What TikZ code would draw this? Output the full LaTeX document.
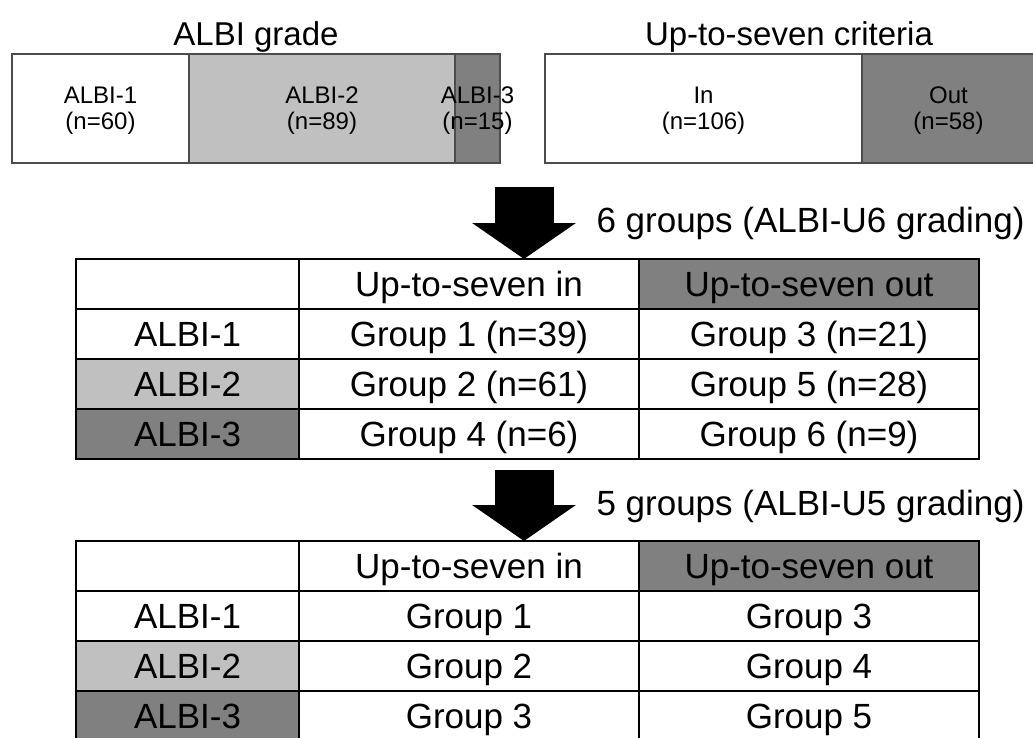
\documentclass[tikz,border=0pt]{standalone}
\usepackage{fontspec}
\setmainfont{Liberation Sans}
\usetikzlibrary{positioning, arrows.meta}
\definecolor{albiTwo}{HTML}{C0C0C0}
\definecolor{albiThree}{HTML}{808080}

\begin{document}
\begin{tikzpicture}[x=1pt, y=-1pt, node distance=0pt and 0pt]
    \tikzset{
      bar/.style={
        rectangle, draw=black!70, line width=1.5pt,
        outer sep=0pt, inner sep=0pt, minimum height=109pt,
        align=center, text depth=0pt, font=\fontsize{24}{26}\selectfont
      },
      barlabel/.style={align=center, text depth=0pt, font=\fontsize{24}{26}\selectfont},
      heading/.style={anchor=base, font=\fontsize{33}{38}\selectfont},
      cell/.style={
        rectangle, draw=black, line width=1.6pt,
        outer sep=0pt, inner sep=0pt, minimum height=50pt,
        text height=25pt, text depth=0pt, font=\fontsize{35}{40}\selectfont
      },
      rowcell/.style={cell, minimum width=223pt},
      datacell/.style={cell, minimum width=340pt},
      gradelabel/.style={anchor=base west, font=\fontsize{35}{40}\selectfont},
      bigarrow/.style={line width=59pt, -{Triangle[width=102pt, length=36pt]}}
    }
    \useasboundingbox (0,0) rectangle (1033,738);

    % ALBI grade bar
    \node[heading] (albititle) at (256,46) {ALBI grade};
    \node[bar, anchor=north west, minimum width=177pt] (a1) at (12,54) {ALBI-1\\(n=60)};
    \node[bar, fill=albiTwo, minimum width=266pt, right=of a1] (a2) {ALBI-2\\(n=89)};
    \node[bar, fill=albiThree, minimum width=45pt, right=of a2] (a3) {};
    \node[barlabel] (a3text) at (a3) {ALBI-3\\(n=15)};

    % Up-to-seven bar
    \node[heading] (uptitle) at (789,46) {Up-to-seven criteria};
    \node[bar, anchor=north west, minimum width=317pt] (b1) at (545,54) {In\\(n=106)};
    \node[bar, fill=albiThree, minimum width=173pt, right=of b1] (b2) {Out\\(n=58)};

    % Table 1: ALBI-U6
    \node[rowcell, anchor=north west] (t1h0) at (76,259) {};
    \node[datacell, right=of t1h0] (t1h1) {Up-to-seven in};
    \node[datacell, fill=albiThree, right=of t1h1] (t1h2) {Up-to-seven out};
    \node[rowcell, below=of t1h0] (t1r1) {ALBI-1};
    \node[datacell, right=of t1r1] (t1g1) {Group 1 (n=39)};
    \node[datacell, right=of t1g1] (t1g3) {Group 3 (n=21)};
    \node[rowcell, fill=albiTwo, below=of t1r1] (t1r2) {ALBI-2};
    \node[datacell, right=of t1r2] (t1g2) {Group 2 (n=61)};
    \node[datacell, right=of t1g2] (t1g5) {Group 5 (n=28)};
    \node[rowcell, fill=albiThree, below=of t1r2] (t1r3) {ALBI-3};
    \node[datacell, right=of t1r3] (t1g4) {Group 4 (n=6)};
    \node[datacell, right=of t1g4] (t1g6) {Group 6 (n=9)};

    \coordinate (arr1) at (524,187);
    \draw[bigarrow] (arr1) -- (arr1 |- t1h1.north);
    \node[gradelabel] (u6) at (593,233) {6 groups (ALBI-U6 grading)};

    % Table 2: ALBI-U5
    \node[rowcell, anchor=north west] (t2h0) at (76,541) {};
    \node[datacell, right=of t2h0] (t2h1) {Up-to-seven in};
    \node[datacell, fill=albiThree, right=of t2h1] (t2h2) {Up-to-seven out};
    \node[rowcell, below=of t2h0] (t2r1) {ALBI-1};
    \node[datacell, right=of t2r1] (t2g1) {Group 1};
    \node[datacell, right=of t2g1] (t2g3) {Group 3};
    \node[rowcell, fill=albiTwo, below=of t2r1] (t2r2) {ALBI-2};
    \node[datacell, right=of t2r2] (t2g2) {Group 2};
    \node[datacell, right=of t2g2] (t2g4) {Group 4};
    \node[rowcell, fill=albiThree, below=of t2r2] (t2r3) {ALBI-3};
    \node[datacell, right=of t2r3] (t2g3b) {Group 3};
    \node[datacell, right=of t2g3b] (t2g5) {Group 5};

    \coordinate (arr2) at (524,470);
    \draw[bigarrow] (arr2) -- (arr2 |- t2h1.north);
    \node[gradelabel] (u5) at (593,515) {5 groups (ALBI-U5 grading)};
  \end{tikzpicture}
\end{document}
